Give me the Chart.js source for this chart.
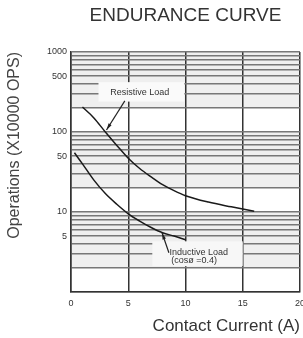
<!DOCTYPE html>
<html>
<head>
<meta charset="utf-8">
<script src="https://cdn.jsdelivr.net/npm/chart.js@4"></script>
<style>
  html, body { margin: 0; padding: 0; background: #fff; }
  #wrap { width: 303px; height: 338px; }
</style>
</head>
<body>
<div id="wrap"><canvas id="enduranceChart"></canvas></div>
<script>
// contact current (A) and operations (x10000 ops)
const currentRes = [1, 2, 3, 4, 5, 6, 7, 8, 9, 10, 12, 14, 16];
const opsRes = [205, 150, 100, 68, 47, 35, 27.5, 22, 18.5, 16, 13.3, 11.6, 10.2];
const currentInd = [0.3, 1, 2, 3, 4, 5, 6, 7, 8, 9, 10];
const opsInd = [55, 40, 25, 17, 12.5, 9.5, 7.7, 6.4, 5.5, 5, 4.5];

const xTicks = [0, 5, 10, 15, 20];
const yLabels = [5, 10, 50, 100, 500, 1000];

const FONT = "'Liberation Sans', Arial, sans-serif";

// grid lines at 1..9 x each decade
function logGrid(min, max) {
    const out = [];
    for (let d = min; d < max; d *= 10) {
        for (let k = 1; k < 10; k++) out.push({ value: k * d });
    }
    out.push({ value: max });
    return out;
}

function toPts(xs, ys) {
    return xs.map((x, i) => ({ x: x, y: ys[i] }));
}

// light grey shading in the upper part of each decade, like log paper
const paper = {
    id: 'paper',
    beforeDraw(chart) {
        const { ctx, chartArea: a } = chart;
        const ys = chart.scales.y;
        ctx.save();
        ctx.fillStyle = '#efefef';
        for (let d = 1; d < 1000; d *= 10) {
            const top = ys.getPixelForValue(10 * d);
            const bot = ys.getPixelForValue(2 * d);
            ctx.fillRect(a.left, top, a.right - a.left, bot - top);
        }
        ctx.restore();
    }
};

// text labels with arrows pointing to the curves
const notes = {
    id: 'notes',
    beforeDatasetsDraw(chart) {
        const ctx = chart.ctx;
        const xs = chart.scales.x, ys = chart.scales.y;
        const px = v => xs.getPixelForValue(v);
        const py = v => ys.getPixelForValue(v);
        ctx.save();
        ctx.font = '9px ' + FONT;
        ctx.textBaseline = 'middle';

        // Resistive Load
        ctx.fillStyle = '#fafafa';
        ctx.fillRect(px(2.4), py(420), px(9.9) - px(2.4), py(240) - py(420));
        ctx.fillStyle = '#333';
        ctx.textAlign = 'center';
        ctx.fillText('Resistive Load', px(6), py(310));
        arrow(ctx, px(4.7), py(245), px(3.1), py(106));

        // Inductive Load
        ctx.fillStyle = '#f7f7f7';
        ctx.fillRect(px(7.1), py(4.3), px(15) - px(7.1), py(2.1) - py(4.3));
        ctx.fillStyle = '#333';
        ctx.textAlign = 'left';
        ctx.fillText('Inductive Load', px(8.6), py(3.15));
        ctx.fillText('(cosø =0.4)', px(8.75), py(2.45));
        arrow(ctx, px(8.55), py(3.1), px(7.95), py(5.5));
        ctx.restore();
    }
};

function arrow(ctx, x1, y1, x2, y2) {
    const a = Math.atan2(y2 - y1, x2 - x1);
    ctx.strokeStyle = '#222';
    ctx.lineWidth = 1.2;
    ctx.beginPath();
    ctx.moveTo(x1, y1);
    ctx.lineTo(x2, y2);
    ctx.stroke();
    ctx.fillStyle = '#222';
    ctx.beginPath();
    ctx.moveTo(x2, y2);
    ctx.lineTo(x2 - 7 * Math.cos(a - 0.25), y2 - 7 * Math.sin(a - 0.25));
    ctx.lineTo(x2 - 7 * Math.cos(a + 0.25), y2 - 7 * Math.sin(a + 0.25));
    ctx.closePath();
    ctx.fill();
}

const ctx = document.getElementById('enduranceChart').getContext('2d');
new Chart(ctx, {
    type: 'line',
    data: {
        datasets: [{
            label: 'Resistive Load',
            data: toPts(currentRes, opsRes),
            borderColor: '#1a1a1a',
            borderWidth: 1.5,
            pointRadius: 0,
            cubicInterpolationMode: 'monotone',
            fill: false
        }, {
            label: 'Inductive Load (cosø =0.4)',
            data: toPts(currentInd, opsInd),
            borderColor: '#1a1a1a',
            borderWidth: 1.5,
            pointRadius: 0,
            cubicInterpolationMode: 'monotone',
            fill: false
        }]
    },
    options: {
        responsive: true,
        maintainAspectRatio: false,
        animation: false,
        layout: { padding: { left: 0, right: 3, top: 0, bottom: 0 } },
        plugins: {
            legend: { display: false },
            tooltip: { enabled: false },
            title: {
                display: true,
                text: 'ENDURANCE CURVE',
                fullSize: false,
                color: '#333',
                font: { family: FONT, size: 19, weight: 'normal', lineHeight: 1.2 },
                padding: { top: 4, bottom: 25.2 }
            }
        },
        scales: {
            x: {
                type: 'linear',
                min: 0,
                max: 20,
                afterBuildTicks: s => { s.ticks = xTicks.map(v => ({ value: v })); },
                afterFit: s => { s.height = 46; s.paddingRight = 0; s.paddingLeft = 0; },
                grid: { color: '#333', lineWidth: 1.5, drawTicks: false },
                border: { color: '#333', width: 1.5 },
                ticks: {
                    padding: 6,
                    color: '#333',
                    font: { family: FONT, size: 9 }
                },
                title: {
                    display: true,
                    text: 'Contact Current (A)',
                    align: 'end',
                    color: '#333',
                    font: { family: FONT, size: 17, lineHeight: 1.2 },
                    padding: { top: 0, bottom: 1 }
                }
            },
            y: {
                type: 'logarithmic',
                min: 1,
                max: 1000,
                afterBuildTicks: s => { s.ticks = logGrid(1, 1000); },
                afterFit: s => { s.width = 71; s.paddingTop = 0; s.paddingBottom = 0; },
                grid: { color: '#777', lineWidth: 1.5, drawTicks: false },
                border: { color: '#333', width: 1.5 },
                ticks: {
                    padding: 4,
                    color: '#333',
                    autoSkip: false,
                    font: { family: FONT, size: 9 },
                    callback: v => (yLabels.includes(v) ? String(v) : '')
                },
                title: {
                    display: true,
                    text: 'Operations (X10000 OPS)',
                    align: 'end',
                    color: '#444',
                    font: { family: FONT, size: 16, lineHeight: 1.2 },
                    padding: { top: 5.4, bottom: 0 }
                }
            }
        }
    },
    plugins: [paper, notes]
});
</script>
</body>
</html>
